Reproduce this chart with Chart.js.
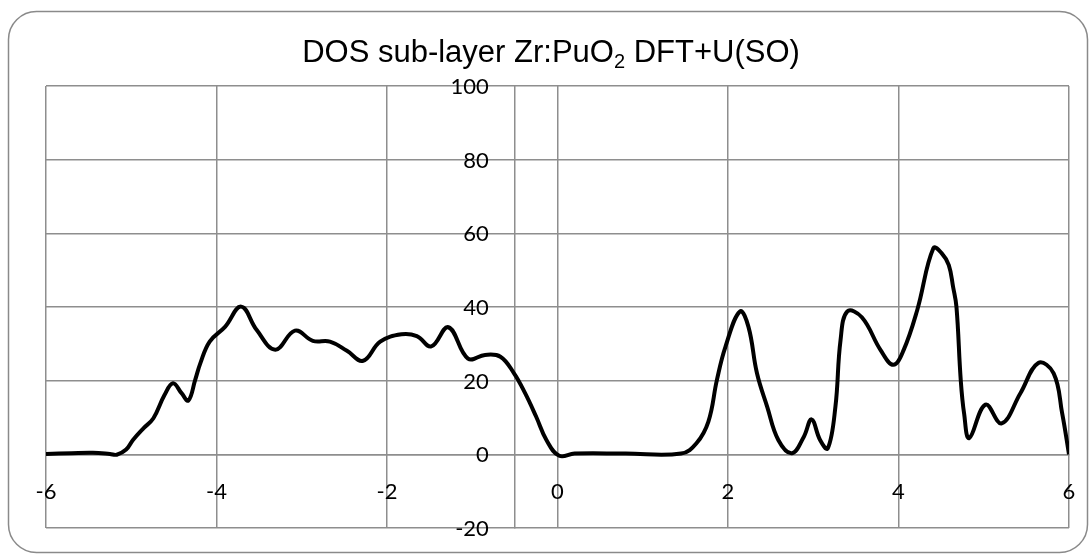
<!DOCTYPE html>
<html>
<head>
<meta charset="utf-8">
<script src="https://cdn.jsdelivr.net/npm/chart.js@4.4.1/dist/chart.umd.min.js"></script>
<style>
  html, body { margin: 0; padding: 0; background: #fff; }
  #wrap { width: 1089px; height: 554px; position: relative; }
</style>
</head>
<body>
<div id="wrap"><canvas id="chartDos"></canvas></div>
<script>
// energy (eV) and density of states
const energy = [
  -6.00, -5.70, -5.45, -5.25, -5.17, -5.06, -4.98, -4.86, -4.74, -4.61,
  -4.51, -4.41, -4.33, -4.25, -4.19, -4.08, -3.90, -3.71, -3.53, -3.31,
  -3.08, -2.87, -2.67, -2.47, -2.28, -2.08, -1.83, -1.65, -1.48, -1.28,
  -1.05, -0.85, -0.67, -0.51, -0.38, -0.25, -0.13, 0.02, 0.20, 0.80,
  1.45, 1.63, 1.77, 1.87, 1.97, 2.14, 2.24, 2.34, 2.46, 2.59,
  2.75, 2.89, 2.98, 3.08, 3.17, 3.26, 3.32, 3.40, 3.57, 3.79,
  3.94, 4.06, 4.22, 4.41, 4.51, 4.59, 4.64, 4.68, 4.73, 4.77,
  4.83, 5.02, 5.21, 5.43, 5.64, 5.82, 5.92, 6.00
];
const dos = [
  0.1, 0.3, 0.4, 0.1, -0.1, 1.3, 3.9, 7.0, 9.8, 16.1,
  19.3, 16.6, 14.6, 20.2, 24.7, 30.6, 34.6, 40.1, 33.8, 28.4,
  33.6, 30.8, 30.6, 28.1, 25.4, 30.6, 32.6, 32.1, 29.3, 34.5,
  26.0, 27.0, 26.5, 22.0, 16.6, 10.2, 3.9, -0.4, 0.2, 0.2,
  0.2, 3.0, 8.9, 20.2, 29.2, 38.8, 34.6, 22.0, 12.9, 3.9,
  0.3, 4.8, 9.5, 3.9, 1.6, 12.9, 31.0, 38.8, 37.2, 28.3,
  24.3, 28.3, 39.2, 56.0, 54.5, 51.4, 45.5, 40.0, 20.2, 11.0,
  4.4, 13.5, 8.4, 16.6, 24.8, 22.0, 11.1, 0.0
];

const xTicks = [-6, -4, -2, 0, 2, 4, 6];
const yTicks = [-20, 0, 20, 40, 60, 80, 100];
const titleMain = 'DOS sub-layer Zr:PuO';
const titleSub = '2';
const titleTail = ' DFT+U(SO)';

const gridColor = '#8e8e8e';

// white page and rounded frame around the whole chart
const framePlugin = {
  id: 'frame',
  beforeDraw(chart) {
    const ctx = chart.ctx;
    ctx.save();
    ctx.fillStyle = '#ffffff';
    ctx.fillRect(0, 0, chart.width, chart.height);
    ctx.strokeStyle = '#8a8a8a';
    ctx.lineWidth = 1.5;
    ctx.beginPath();
    ctx.roundRect(8.5, 11.5, 1079, 541, 28);
    ctx.stroke();
    ctx.restore();
  }
};

// title with the subscript in PuO2
const titlePlugin = {
  id: 'subTitle',
  afterDraw(chart) {
    const ctx = chart.ctx;
    const mainFont = '31px "Liberation Sans", Arial, sans-serif';
    const subFont = '20px "Liberation Sans", Arial, sans-serif';
    ctx.save();
    ctx.fillStyle = '#000';
    ctx.textBaseline = 'alphabetic';
    ctx.textAlign = 'left';
    ctx.font = mainFont;
    const w1 = ctx.measureText(titleMain).width;
    const w3 = ctx.measureText(titleTail).width;
    ctx.font = subFont;
    const w2 = ctx.measureText(titleSub).width;
    let x = 551 - (w1 + w2 + w3) / 2;
    const base = 62;
    ctx.font = mainFont;
    ctx.fillText(titleMain, x, base);
    x += w1;
    ctx.font = subFont;
    ctx.fillText(titleSub, x, base + 6);
    x += w2;
    ctx.font = mainFont;
    ctx.fillText(titleTail, x, base);
    ctx.restore();
  }
};

// tick labels: y labels left of the axis line at x = -0.5,
// x labels centred under each grid line, below the zero line
const tickLabelPlugin = {
  id: 'tickLabels',
  afterDraw(chart) {
    const ctx = chart.ctx;
    const { x, y } = chart.scales;
    const yLabelX = x.getPixelForValue(-0.5) - 26;
    const xLabelY = y.getPixelForValue(0) + 38;
    ctx.save();
    ctx.fillStyle = '#000';
    ctx.font = '22px Lato';
    ctx.textBaseline = 'middle';
    ctx.textAlign = 'right';
    yTicks.forEach(v => {
      ctx.fillText(String(v), yLabelX, y.getPixelForValue(v) + 1);
    });
    ctx.textAlign = 'center';
    xTicks.forEach(v => {
      ctx.fillText(String(v), x.getPixelForValue(v), xLabelY);
    });
    ctx.restore();
  }
};

new Chart(document.getElementById('chartDos'), {
  type: 'scatter',
  data: {
    datasets: [{
      label: 'DOS',
      data: energy.map((e, i) => ({ x: e, y: dos[i] })),
      showLine: true,
      borderColor: '#000',
      borderWidth: 4,
      pointRadius: 0,
      pointHoverRadius: 0,
      tension: 0.4,
      fill: false
    }]
  },
  options: {
    responsive: true,
    maintainAspectRatio: false,
    animation: false,
    layout: {
      padding: { left: 46, right: 20, top: 86, bottom: 26 }
    },
    plugins: {
      legend: { display: false },
      title: { display: false },
      tooltip: { enabled: false }
    },
    scales: {
      x: {
        type: 'linear',
        position: { y: 0 },
        min: -6,
        max: 6,
        afterBuildTicks: s => { s.ticks = xTicks.map(v => ({ value: v })); },
        grid: { color: gridColor, lineWidth: 1.5, drawTicks: false },
        border: { color: gridColor, width: 1.5 },
        ticks: { display: false }
      },
      y: {
        type: 'linear',
        position: { x: -0.5 },
        min: -20,
        max: 100,
        afterBuildTicks: s => { s.ticks = yTicks.map(v => ({ value: v })); },
        grid: { color: gridColor, lineWidth: 1.5, drawTicks: false },
        border: { color: gridColor, width: 1.5 },
        ticks: { display: false }
      }
    }
  },
  plugins: [framePlugin, titlePlugin, tickLabelPlugin]
});
</script>
</body>
</html>
